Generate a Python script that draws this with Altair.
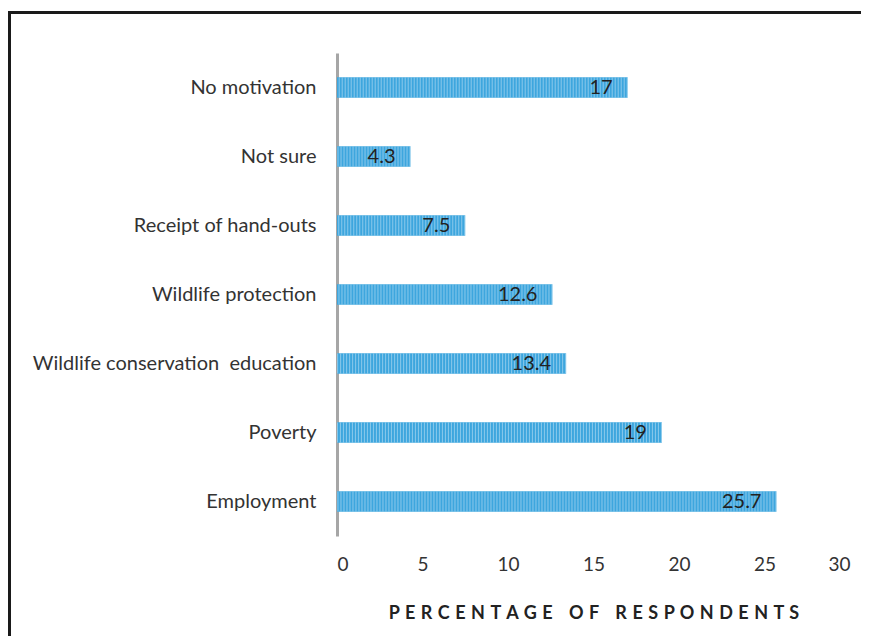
import altair as alt
import pandas as pd

categories = ["No motivation", "Not sure", "Receipt of hand-outs", "Wildlife protection",
              "Wildlife conservation  education", "Poverty", "Employment"]
values = [17, 4.3, 7.5, 12.6, 13.4, 19, 25.7]
labels = ["17", "4.3", "7.5", "12.6", "13.4", "19", "25.7"]
x_ticks = [0, 5, 10, 15, 20, 25, 30]

df = pd.DataFrame({"cat": categories, "val": values, "lab": labels})

FONT = "Lato"
GAP = " \u200A"
WGAP = GAP * 3
TITLE = WGAP.join(GAP.join(list(w)) for w in ["PERCENTAGE", "OF", "RESPONDENTS"])

y_enc = alt.Y("cat:N", sort=categories, title=None,
              scale=alt.Scale(paddingInner=0.7, paddingOuter=0.35),
              axis=alt.Axis(domainColor="#A6A6A6", domainWidth=3, ticks=False,
                            labelPadding=21, labelFontSize=20, labelColor="#333333",
                            labelFont=FONT, labelLimit=400,
                            labelExpr="replace(datum.label, '  ', ' \u00a0')"))
x_enc = alt.X("val:Q", title=TITLE,
              scale=alt.Scale(domain=[0, 30], nice=False),
              axis=alt.Axis(values=x_ticks, domain=False, ticks=False, grid=False,
                            labelPadding=19, labelFontSize=19, labelColor="#333333",
                            labelFont=FONT, titleFont=FONT, titleFontSize=18,
                            titleFontWeight="bold", titleColor="#222222",
                            titlePadding=30))

base = alt.Chart(df)

bars = base.mark_bar(color="#3DA6DE").encode(x=x_enc, y=y_enc)
stripes = base.mark_rule(color="#FFFFFF", opacity=0.4, strokeWidth=20,
                         strokeDash=[1, 2]).encode(
    x=alt.X("val:Q"), x2=alt.datum(0), y=alt.Y("cat:N", sort=categories))
text = base.mark_text(align="right", dx=-15, fontSize=20, color="#222222",
                      font=FONT).encode(
    x=alt.X("val:Q"), y=alt.Y("cat:N", sort=categories), text="lab:N")

frame = alt.Chart(alt.Data(values=[{"a": 1}])).mark_rect(
    fill=None, stroke="#1A1A1A", strokeWidth=3, clip=False
).encode(x=alt.value(-327.5), x2=alt.value(700), y=alt.value(-40.5), y2=alt.value(800))

chart = alt.layer(bars, stripes, text, frame).properties(
    width=513, height=483,
    autosize=alt.AutoSizeParams(type="none"),
    padding={"left": 329, "top": 45, "right": 11, "bottom": 100},
).configure_view(strokeWidth=0)

chart.save("out.html", embed_options={"renderer": "svg", "actions": False})
